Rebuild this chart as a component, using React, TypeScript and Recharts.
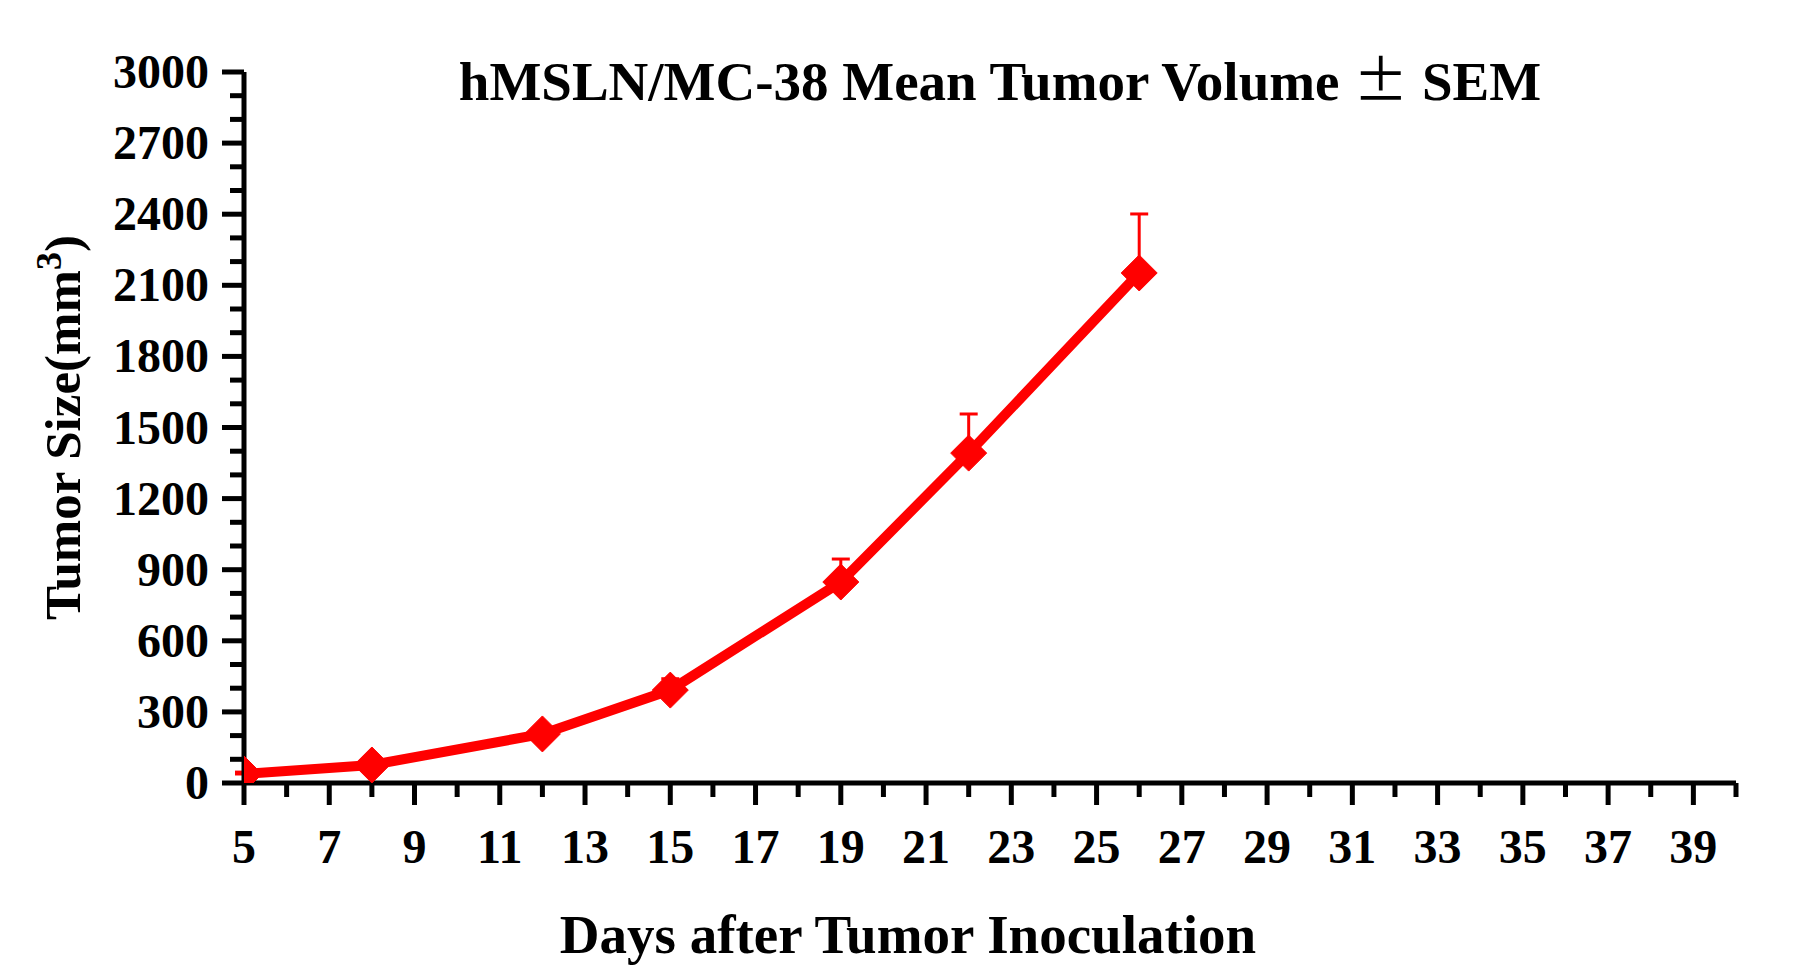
import React from "react";
import { LineChart, Line, XAxis, YAxis, ErrorBar, Label } from "recharts";

// days after inoculation, mean tumour volume (mm3) and SEM
const days = [5, 8, 12, 15, 19, 22, 26];
const meanVolume = [38, 76, 207, 392, 848, 1392, 2152];
const semVolume = [8, 12, 22, 48, 97, 165, 249];

const xMajorTicks = [5, 7, 9, 11, 13, 15, 17, 19, 21, 23, 25, 27, 29, 31, 33, 35, 37, 39];
const yMajorTicks = [0, 300, 600, 900, 1200, 1500, 1800, 2100, 2400, 2700, 3000];

const xTicks = [...xMajorTicks, ...xMajorTicks.map((d) => d + 1)].sort((a, b) => a - b);
const yTicks = [
  ...yMajorTicks,
  ...yMajorTicks.slice(0, -1).flatMap((v) => [v + 100, v + 200]),
].sort((a, b) => a - b);

const data = days.map((day, i) => ({
  day,
  mean: meanVolume[i],
  sem: [0, semVolume[i]],
}));

const FONT = "'Liberation Serif', 'Times New Roman', serif";
const RED = "#ff0000";

function XTick(props: any) {
  const { x, y, payload } = props;
  const major = xMajorTicks.includes(payload.value);
  return (
    <g>
      <line x1={x} y1={y} x2={x} y2={y + (major ? 22 : 14)} stroke="#000" strokeWidth={5} />
      {major && (
        <text x={x} y={y + 80} textAnchor="middle" fontFamily={FONT} fontWeight="bold" fontSize={48} fill="#000">
          {payload.value}
        </text>
      )}
    </g>
  );
}

function YTick(props: any) {
  const { x, y, payload } = props;
  const major = yMajorTicks.includes(payload.value);
  return (
    <g>
      <line x1={x - (major ? 22 : 14)} y1={y} x2={x} y2={y} stroke="#000" strokeWidth={5} />
      {major && (
        <text x={x - 35} y={y + 16} textAnchor="end" fontFamily={FONT} fontWeight="bold" fontSize={48} fill="#000">
          {payload.value}
        </text>
      )}
    </g>
  );
}

function Diamond(props: any) {
  const { cx, cy, index } = props;
  if (cx == null || cy == null) return null;
  const r = 18;
  return (
    <path
      key={`d-${index}`}
      d={`M${cx},${cy - r}L${cx + r},${cy}L${cx},${cy + r}L${cx - r},${cy}Z`}
      fill={RED}
      stroke={RED}
      strokeWidth={1}
      strokeLinejoin="round"
    />
  );
}

export default function App() {
  return (
    <div style={{ position: "absolute", left: 0, top: 0, width: 1802, height: 978, background: "#fff" }}>
      <LineChart width={1802} height={978} data={data} margin={{ top: 72, right: 66, bottom: 0, left: 0 }}>
        <XAxis
          dataKey="day"
          type="number"
          domain={[5, 40]}
          ticks={xTicks}
          interval={0}
          tickSize={0}
          tickMargin={0}
          tickLine={false}
          axisLine={{ stroke: "#000", strokeWidth: 5 }}
          tick={XTick}
          height={195}
          allowDataOverflow
        >
          <Label
            content={({ viewBox }: any) => (
              <text
                x={viewBox.x + viewBox.width / 2 - 82}
                y={viewBox.y + 170}
                textAnchor="middle"
                fontFamily={FONT}
                fontWeight="bold"
                fontSize={55}
                fill="#000"
              >
                Days after Tumor Inoculation
              </text>
            )}
          />
        </XAxis>
        <YAxis
          type="number"
          domain={[0, 3000]}
          ticks={yTicks}
          interval={0}
          tickSize={0}
          tickMargin={0}
          tickLine={false}
          axisLine={{ stroke: "#000", strokeWidth: 5 }}
          tick={YTick}
          width={244}
          allowDataOverflow
        >
          <Label
            content={({ viewBox }: any) => {
              const cx = viewBox.x + 63;
              const cy = viewBox.y + viewBox.height / 2;
              return (
                <text
                  x={cx}
                  y={cy}
                  transform={`rotate(-90 ${cx} ${cy})`}
                  textAnchor="middle"
                  dominantBaseline="central"
                  fontFamily={FONT}
                  fontWeight="bold"
                  fontSize={51}
                  fill="#000"
                >
                  Tumor Size(mm<tspan dy={-14} fontSize={36}>3</tspan>
                  <tspan dy={14}>)</tspan>
                </text>
              );
            }}
          />
        </YAxis>
        <Line
          type="linear"
          dataKey="mean"
          stroke={RED}
          strokeWidth={10}
          dot={Diamond}
          activeDot={false}
          isAnimationActive={false}
        >
          <ErrorBar dataKey="sem" direction="y" width={9} strokeWidth={3} stroke={RED} isAnimationActive={false} />
        </Line>
        <text x={1000} y={100} textAnchor="middle" fontFamily={FONT} fontWeight="bold" fontSize={55} fill="#000">
          hMSLN/MC-38 Mean Tumor Volume <tspan fontFamily="'Noto Sans CJK SC'" fontWeight="normal">±</tspan> SEM
        </text>
      </LineChart>
    </div>
  );
}
